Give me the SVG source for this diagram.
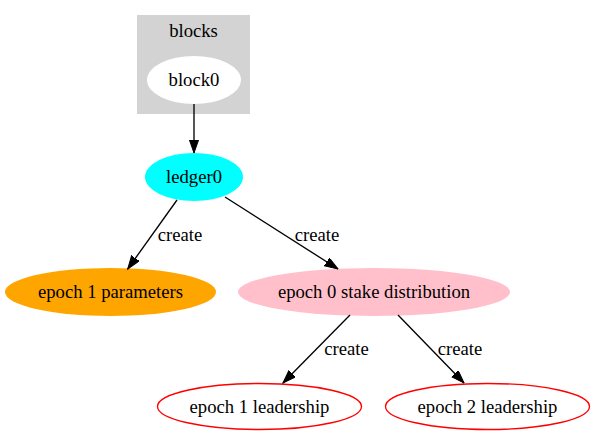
<svg xmlns="http://www.w3.org/2000/svg" width="595" height="436" viewBox="0 0 595 436">
<style>
text{font-family:"Liberation Serif","Times New Roman",serif;font-size:18.67px;fill:#000;text-anchor:middle}
.e{stroke:#000;stroke-width:1.33;fill:none}
</style>
<defs>
<marker id="ah" markerWidth="14" markerHeight="10" refX="13.3" refY="4.67" orient="auto" markerUnits="userSpaceOnUse">
<path d="M0,0 L13.3,4.67 L0,9.33 Z" fill="#000" stroke="#000" stroke-width="1"/>
</marker>
</defs>
<rect width="595" height="436" fill="#fff"/>
<g id="cluster_blocks">
<rect x="137" y="15" width="113" height="99" fill="#d3d3d3"/>
<text x="193.5" y="37">blocks</text>
</g>
<g id="block0">
<ellipse cx="194" cy="80" rx="47" ry="24" fill="#fff"/>
<text x="194" y="86">block0</text>
</g>
<g id="ledger0">
<ellipse cx="194" cy="177" rx="49" ry="24" fill="#00ffff"/>
<text x="194" y="183">ledger0</text>
</g>
<g id="epoch1params">
<ellipse cx="110.5" cy="292" rx="105.5" ry="24" fill="#ffa500"/>
<text x="110.5" y="298">epoch 1 parameters</text>
</g>
<g id="epoch0stake">
<ellipse cx="374" cy="292" rx="136" ry="24" fill="#ffc0cb"/>
<text x="374" y="298">epoch 0 stake distribution</text>
</g>
<g id="epoch1lead">
<ellipse cx="259.5" cy="406.5" rx="102" ry="23" fill="none" stroke="#ff0000" stroke-width="1.33"/>
<text x="259.5" y="412.5">epoch 1 leadership</text>
</g>
<g id="epoch2lead">
<ellipse cx="487.5" cy="406.5" rx="102" ry="23" fill="none" stroke="#ff0000" stroke-width="1.33"/>
<text x="487.5" y="412.5">epoch 2 leadership</text>
</g>
<g id="edges">
<path class="e" d="M194,104 L194,153" marker-end="url(#ah)"/>
<path class="e" d="M177,200 L127.7,269" marker-end="url(#ah)"/>
<text x="180" y="241">create</text>
<path class="e" d="M225,197 L338,269" marker-end="url(#ah)"/>
<text x="317" y="241">create</text>
<path class="e" d="M350,315 L283,383" marker-end="url(#ah)"/>
<text x="346.5" y="355">create</text>
<path class="e" d="M398,315 L464,383" marker-end="url(#ah)"/>
<text x="460" y="355">create</text>
</g>
</svg>
